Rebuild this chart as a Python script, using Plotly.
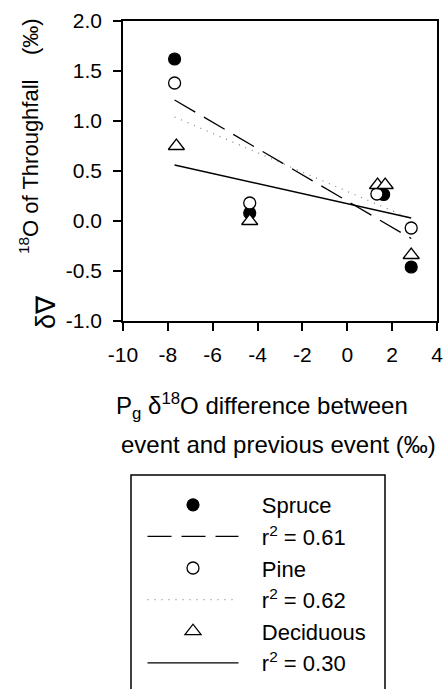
import plotly.graph_objects as go

# ---- data ----
spruce_x = [-7.7, -4.35, 1.62, 2.85]
spruce_y = [1.62, 0.08, 0.265, -0.46]
pine_x = [-7.7, -4.35, 1.32, 2.85]
pine_y = [1.38, 0.18, 0.27, -0.07]
decid_x = [-7.62, -4.35, 1.35, 1.69, 2.85]
decid_y = [0.75, 0.0, 0.36, 0.36, -0.34]

fit_x = [-7.7, 2.85]
spruce_fit = [1.21, -0.175]
pine_fit = [1.04, 0.02]
decid_fit = [0.56, 0.03]

x_ticks = [-10, -8, -6, -4, -2, 0, 2, 4]
x_ticktext = ["-10", "-8", "-6", "-4", "-2", "0", "2", "4"]
y_ticks = [-1.0, -0.5, 0.0, 0.5, 1.0, 1.5, 2.0]
y_ticktext = ["-1.0", "-0.5", "0.0", "0.5", "1.0", "1.5", "2.0"]

FONT = "Arial, Liberation Sans, Helvetica, sans-serif"
PAD = "\u00a0\u00a0\u00a0"

# pixel helpers for layout placement (plot area: x 123..437, y 21..321)
def px(x):
    return (x - 123) / 314

def py(y):
    return (321 - y) / 300

fig = go.Figure()
fig.add_trace(go.Scatter(x=spruce_x, y=spruce_y, mode="markers", name=PAD + "Spruce",
                         marker=dict(symbol="circle", size=12, color="black",
                                     line=dict(color="black", width=1.2))))
fig.add_trace(go.Scatter(x=fit_x, y=spruce_fit, mode="lines", name=PAD + "r<sup>2</sup> = 0.61",
                         line=dict(color="black", width=1.3, dash="24px,10px")))
fig.add_trace(go.Scatter(x=pine_x, y=pine_y, mode="markers", name=PAD + "Pine",
                         marker=dict(symbol="circle", size=12, color="white",
                                     line=dict(color="black", width=1.3))))
fig.add_trace(go.Scatter(x=fit_x, y=pine_fit, mode="lines", name=PAD + "r<sup>2</sup> = 0.62",
                         line=dict(color="#888888", width=1.3, dash="1px,6px")))
fig.add_trace(go.Scatter(x=decid_x, y=decid_y, mode="markers", name=PAD + "Deciduous",
                         marker=dict(symbol="triangle-up", size=14, color="white",
                                     line=dict(color="black", width=1.3))))
fig.add_trace(go.Scatter(x=fit_x, y=decid_fit, mode="lines", name=PAD + "r<sup>2</sup> = 0.30",
                         line=dict(color="black", width=1.3)))

axis_common = dict(showgrid=False, zeroline=False, showline=True, linecolor="black",
                   linewidth=1.5, mirror=True, ticks="outside", ticklen=8,
                   tickwidth=1.5, tickcolor="black",
                   tickfont=dict(family=FONT, size=21, color="black"))

fig.update_xaxes(range=[-10, 4], tickvals=x_ticks, ticktext=x_ticktext,
                 ticklabelstandoff=6, **axis_common)
fig.update_yaxes(range=[-1, 2], tickvals=y_ticks, ticktext=y_ticktext,
                 ticklabelstandoff=7, **axis_common)

annotations = [
    dict(text="<sup>18</sup>O of Throughfall\u00a0\u00a0\u00a0\u00a0(‰)", textangle=-90,
         xref="paper", yref="paper", x=px(29), y=py(136),
         xanchor="center", yanchor="middle", showarrow=False,
         font=dict(family=FONT, size=22, color="black")),
    dict(text="δ∇", textangle=-90,
         xref="paper", yref="paper", x=px(46), y=py(312),
         xanchor="center", yanchor="middle", showarrow=False,
         font=dict(family=FONT, size=27, color="black")),
    dict(text="P<sub>g</sub> δ<sup>18</sup>O difference between",
         xref="paper", yref="paper", x=px(262), y=py(406),
         xanchor="center", yanchor="middle", showarrow=False,
         font=dict(family=FONT, size=24, color="black")),
    dict(text="event and previous event (‰)",
         xref="paper", yref="paper", x=px(278), y=py(444),
         xanchor="center", yanchor="middle", showarrow=False,
         font=dict(family=FONT, size=24, color="black")),
]

shapes = [
    dict(type="rect", xref="paper", yref="paper",
         x0=px(131), x1=px(385), y0=py(475), y1=py(730),
         line=dict(color="black", width=1.5), fillcolor="rgba(0,0,0,0)"),
]

fig.update_layout(
    width=448, height=689,
    margin=dict(l=123, r=11, t=21, b=368, autoexpand=False),
    paper_bgcolor="white", plot_bgcolor="white",
    font=dict(family=FONT, color="black"),
    annotations=annotations,
    shapes=shapes,
    legend=dict(x=px(142.5), y=py(484), xanchor="left", yanchor="top",
                borderwidth=0, bgcolor="rgba(0,0,0,0)",
                font=dict(family=FONT, size=22, color="black"),
                itemwidth=91, tracegroupgap=0, traceorder="normal"),
    showlegend=True,
)

fig.write_html("out.html")
